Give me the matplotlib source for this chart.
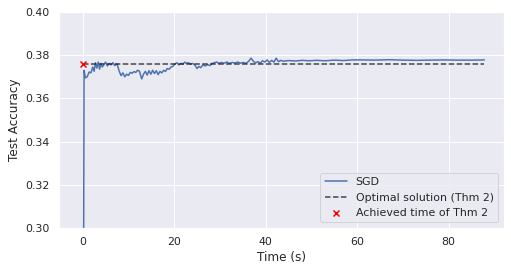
import matplotlib
matplotlib.use("Agg")
import matplotlib.pyplot as plt
import seaborn as sns

# SGD test accuracy over time
time_s = [0.0, 0.3, 0.6, 1.0, 1.4, 1.8, 2.2, 2.5, 2.8, 3.1, 3.4, 3.7, 4.0, 4.3,
          4.6, 5.0, 5.4, 5.8, 6.2, 6.6, 7.0, 7.5, 8.0, 8.4, 8.8, 9.2, 9.6, 10.0,
          10.4, 10.8, 11.2, 11.6, 12.0, 12.4, 12.9, 13.3, 13.7, 14.1, 14.5, 14.9,
          15.3, 15.7, 16.1, 16.5, 16.9, 17.3, 17.7, 18.1, 18.5, 18.9, 19.3, 19.7,
          20.2, 20.6, 21.0, 21.5, 21.9, 22.3, 22.7, 23.1, 23.6, 24.0, 24.5, 25.0,
          25.4, 25.8, 26.3, 26.8, 27.3, 27.8, 28.3, 28.8, 29.3, 29.8, 30.3, 30.9,
          31.5, 32.1, 32.7, 33.3, 33.9, 34.5, 35.1, 35.7, 36.3, 36.8, 37.3, 37.8,
          38.3, 38.8, 39.3, 39.8, 40.3, 40.8, 41.3, 41.8, 42.3, 42.8, 43.3, 43.8,
          45.0, 46.5, 48.0, 49.5, 51.0, 53.0, 55.0, 57.0, 59.0, 61.0, 64.0, 67.0,
          70.0, 73.0, 76.0, 79.0, 82.0, 85.0, 87.8]
sgd_acc = [0.100, 0.3730, 0.3695, 0.3700, 0.3722, 0.3718, 0.3745, 0.3725, 0.3765,
           0.3740, 0.3768, 0.3735, 0.3762, 0.3745, 0.3755, 0.3768, 0.3750, 0.3762,
           0.3755, 0.3765, 0.3752, 0.3760, 0.3725, 0.3705, 0.3718, 0.3700, 0.3712,
           0.3706, 0.3720, 0.3716, 0.3724, 0.3720, 0.3730, 0.3726, 0.3690, 0.3712,
           0.3725, 0.3708, 0.3728, 0.3712, 0.3730, 0.3715, 0.3728, 0.3710, 0.3725,
           0.3718, 0.3730, 0.3725, 0.3738, 0.3735, 0.3745, 0.3748, 0.3760, 0.3765,
           0.3755, 0.3762, 0.3758, 0.3768, 0.3762, 0.3765, 0.3758, 0.3762, 0.3755,
           0.3738, 0.3748, 0.3742, 0.3755, 0.3750, 0.3756, 0.3752, 0.3762, 0.3765,
           0.3768, 0.3762, 0.3766, 0.3763, 0.3768, 0.3762, 0.3766, 0.3764, 0.3768,
           0.3763, 0.3766, 0.3762, 0.3772, 0.3786, 0.3772, 0.3764, 0.3770, 0.3762,
           0.3774, 0.3768, 0.3778, 0.3766, 0.3776, 0.3768, 0.3786, 0.3770, 0.3776,
           0.3772, 0.3775, 0.3773, 0.3776, 0.3774, 0.3776, 0.3774, 0.3777, 0.3775,
           0.3778, 0.3778, 0.3777, 0.3779, 0.3777, 0.3776, 0.3777, 0.3778, 0.3777,
           0.3777, 0.3778]

# Optimal solution from Thm 2 and the time it was reached
optimal_acc = 0.3758
optimal_span = [0.0, 87.8]
achieved_time = 0.0

sns.set()

fig = plt.figure(figsize=(511 / 72, 272 / 72), dpi=72)
ax = fig.add_axes([0.1155, 0.162, 0.87, 0.794])

ax.plot(time_s, sgd_acc, label='SGD')
ax.plot(optimal_span, [optimal_acc, optimal_acc], 'k--', alpha=0.8,
        label='Optimal solution (Thm 2)')
ax.scatter([achieved_time], [optimal_acc], marker='x', color='red', zorder=5,
           label='Achieved time of Thm 2')

ax.set_xlim(-5.17, 92.0)
ax.set_ylim(0.30, 0.40)
ax.set_xlabel('Time (s)')
ax.set_ylabel('Test Accuracy')
ax.legend(loc='lower right')

fig.savefig('out.png', dpi=72)
